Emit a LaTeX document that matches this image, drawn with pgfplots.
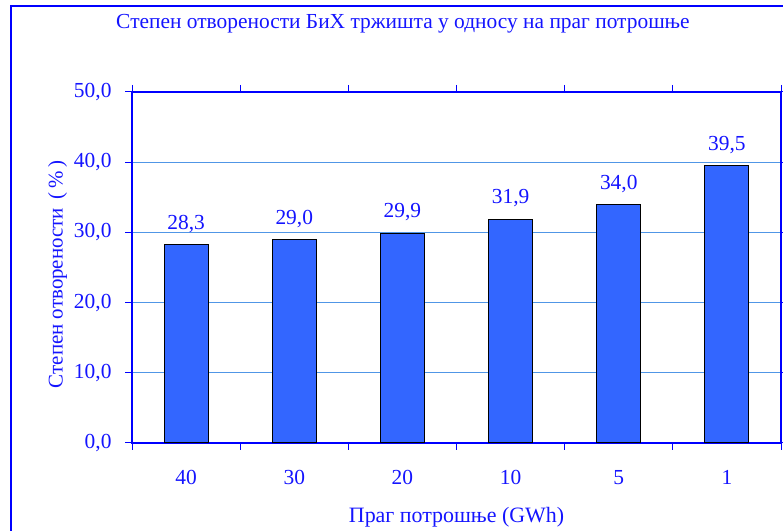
\documentclass[border=0pt]{standalone}
\usepackage{fontspec}
\setmainfont{Liberation Serif}
\usepackage{pgfplots}
\pgfplotsset{compat=1.18}
\definecolor{barblue}{RGB}{51,102,255}
\definecolor{gridblue}{RGB}{80,150,230}
\definecolor{txtblue}{RGB}{20,20,255}
\begin{document}
\begin{tikzpicture}[x=1bp,y=1bp]
\useasboundingbox (0,0) rectangle (783,531);
\draw[blue, line width=2bp] (11,-5) -- (11,525) -- (790,525);
\node[txtblue, font=\fontsize{21.5}{24}\selectfont] at (403,507) {Степен отворености БиХ тржишта у односу на праг потрошње};
\begin{axis}[at={(132bp,88bp)}, anchor=south west, scale only axis,
  width=649bp, height=351bp,
  ybar, bar width=44bp, ymin=0, ymax=50, xmin=-0.5, xmax=5.5,
  xtick={-0.5,0.5,...,5.5}, x tick label as interval,
  xticklabels={40,30,20,10,5,1},
  ytick={0,10,...,50},
  /pgf/number format/.cd, use comma, fixed, fixed zerofill, precision=1, assume math mode=true,
  /pgfplots/.cd,
  tick align=outside, major tick length=7bp,
  tick style={blue, line width=1bp},
  axis line style={blue, line width=1.6bp},
  ymajorgrids, grid style={gridblue, line width=0.9bp},
  tick label style={txtblue, font=\fontsize{21.5}{24}\selectfont},
  yticklabel style={xshift=-10bp},
  xticklabel style={yshift=-17bp},
  xlabel={Праг потрошње (GWh)},
  ylabel={Степен отворености \,(\,\%\,)},
  label style={txtblue},
  xlabel style={yshift=-15bp, font=\fontsize{22}{24}\selectfont},
  ylabel style={yshift=0bp, xshift=-7bp, font=\fontsize{21}{24}\selectfont},
  nodes near coords,
  nodes near coords style={txtblue, font=\fontsize{21.5}{24}\selectfont, yshift=8bp,
    /pgf/number format/.cd, use comma, fixed, fixed zerofill, precision=1, assume math mode=true},
]
\addplot[draw=black, fill=barblue, line width=1.1bp] coordinates {(0,28.3) (1,29.0) (2,29.9) (3,31.9) (4,34.0) (5,39.5)};
\end{axis}
\end{tikzpicture}
\end{document}
